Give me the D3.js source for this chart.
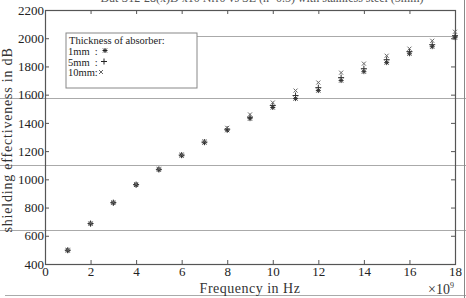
<!DOCTYPE html>
<html>
<head>
<meta charset="utf-8">
<script src="https://cdn.jsdelivr.net/npm/d3@7"></script>
<style>
  body { margin: 0; background: #fff; }
  svg { display: block; font-family: "Liberation Serif", "DejaVu Serif", serif; }
</style>
</head>
<body>
<div id="chart"></div>
<script>
// frequencies in GHz (axis shows x10^9 Hz)
const freqs = [1, 2, 3, 4, 5, 6, 7, 8, 9, 10, 11, 12, 13, 14, 15, 16, 17, 18];
const se1mm  = [495, 684, 832, 960, 1068, 1168, 1260, 1348, 1430, 1509, 1572, 1629, 1700, 1763, 1827, 1890, 1940, 2004];
const se5mm  = [498, 687, 835, 963, 1071, 1172, 1264, 1355, 1440, 1523, 1594, 1650, 1721, 1784, 1848, 1905, 1954, 2018];
const se10mm = [501, 690, 838, 966, 1075, 1176, 1270, 1365, 1460, 1544, 1629, 1686, 1756, 1820, 1876, 1926, 1982, 2046];
const xTicks = [0, 2, 4, 6, 8, 10, 12, 14, 16, 18];
const yTicks = [400, 600, 800, 1000, 1200, 1400, 1600, 1800, 2000, 2200];
const legendRows = ['1mm  : ', '5mm  : ', '10mm: '];

const width = 466, height = 298;
const margin = { top: 10, right: 11, bottom: 34, left: 45 };
const innerWidth = width - margin.left - margin.right;
const innerHeight = height - margin.top - margin.bottom;

const svg = d3.select('#chart').append('svg')
  .attr('width', width)
  .attr('height', height);

const x = d3.scaleLinear().domain([0, 18]).range([margin.left, margin.left + innerWidth]);
const y = d3.scaleLinear().domain([400, 2200]).range([margin.top + innerHeight, margin.top]);

// cut-off title at the very top
svg.append('text')
  .attr('x', 262).attr('y', 1.5)
  .attr('text-anchor', 'middle')
  .style('font-size', '12px')
  .style('fill', '#555')
  .text('Dut S12-28(x)D x10 Nrr0 vs SE (n=0.5) with stainless steel (5mm)');

// scan rule lines across the page
const rules = svg.append('g').attr('stroke', '#aaa').attr('stroke-width', 1);
rules.append('line').attr('x1', 197).attr('x2', 458).attr('y1', 36.5).attr('y2', 36.5);
[98.5, 165.5, 230.5].forEach(v => {
  rules.append('line').attr('x1', 0).attr('x2', width).attr('y1', v).attr('y2', v);
});
rules.append('line').attr('x1', 5).attr('x2', width).attr('y1', 295.5).attr('y2', 295.5);
rules.append('line').attr('x1', 464.5).attr('x2', 464.5).attr('y1', 0).attr('y2', height).attr('stroke', '#888');

// axes (box with ticks on all four sides)
const axisStyle = a => {
  a.select('.domain').remove();
  a.selectAll('line').attr('stroke', '#555');
  a.selectAll('text').style('font-size', '13px').style('fill', '#222')
    .style('font-family', '"Liberation Serif", serif');
};

svg.append('g')
  .attr('transform', `translate(0,${margin.top + innerHeight})`)
  .call(d3.axisBottom(x).tickValues(xTicks).tickSize(-4).tickPadding(3).tickFormat(d3.format('d')))
  .call(axisStyle);
svg.append('g')
  .attr('transform', `translate(0,${margin.top})`)
  .call(d3.axisTop(x).tickValues(xTicks).tickSize(-4).tickFormat(''))
  .call(axisStyle);
svg.append('g')
  .attr('transform', `translate(${margin.left},0)`)
  .call(d3.axisLeft(y).tickValues(yTicks).tickSize(-4).tickPadding(1).tickFormat(d3.format('d')))
  .call(axisStyle);
svg.append('g')
  .attr('transform', `translate(${margin.left + innerWidth},0)`)
  .call(d3.axisRight(y).tickValues(yTicks).tickSize(-4).tickFormat(''))
  .call(axisStyle);

svg.append('rect')
  .attr('x', margin.left + 0.5).attr('y', margin.top + 0.5)
  .attr('width', innerWidth).attr('height', innerHeight)
  .attr('fill', 'none').attr('stroke', '#555').attr('stroke-width', 1.2);

// markers
const plot = svg.append('g').attr('stroke', '#333').attr('stroke-width', 1).attr('fill', 'none');
const star = (g, cx, cy) => {
  g.append('path').attr('d', `M${cx - 2.5},${cy}h5M${cx},${cy - 2.5}v5M${cx - 2},${cy - 2}l4,4M${cx - 2},${cy + 2}l4,-4`);
};
const plus = (g, cx, cy) => {
  g.append('path').attr('d', `M${cx - 3},${cy}h6M${cx},${cy - 3}v6`);
};
const cross = (g, cx, cy) => {
  g.append('path').attr('d', `M${cx - 2},${cy - 2}l4,4M${cx - 2},${cy + 2}l4,-4`).attr('stroke', '#666');
};
freqs.forEach((f, i) => {
  star(plot, x(f), y(se1mm[i]));
  plus(plot, x(f), y(se5mm[i]));
  cross(plot, x(f), y(se10mm[i]));
});

// legend
const legend = svg.append('g').attr('transform', 'translate(66,33)');
legend.append('rect')
  .attr('width', 131).attr('height', 55)
  .attr('fill', '#fff').attr('stroke', '#888').attr('stroke-width', 1);
legend.append('text').attr('x', 3).attr('y', 11)
  .style('font-size', '10.5px').style('fill', '#222').text('Thickness of absorber:');
legendRows.forEach((r, i) => {
  legend.append('text').attr('x', 2).attr('y', 22 + i * 10.5)
    .style('font-size', '10.5px').style('fill', '#222').style('white-space', 'pre').text(r);
});
const lg = legend.append('g').attr('stroke', '#222').attr('stroke-width', 1);
star(lg, 39, 17.5);
plus(lg, 38, 28.5);
cross(lg, 35, 39);

// axis labels
svg.append('text')
  .attr('x', 250).attr('y', 293)
  .attr('text-anchor', 'middle')
  .style('font-size', '14px').style('fill', '#333').style('letter-spacing', '0.5px')
  .text('Frequency in Hz');
svg.append('text')
  .attr('transform', 'translate(12,140) rotate(-90)')
  .attr('text-anchor', 'middle')
  .style('font-size', '14px').style('fill', '#333').style('letter-spacing', '0.8px')
  .text('shielding effectiveness in dB');
const exp = svg.append('text').attr('x', 428).attr('y', 294)
  .style('font-size', '14px').style('fill', '#333');
exp.append('tspan').text('×10');
exp.append('tspan').attr('dy', -6).style('font-size', '8px').text('9');
</script>
</body>
</html>
